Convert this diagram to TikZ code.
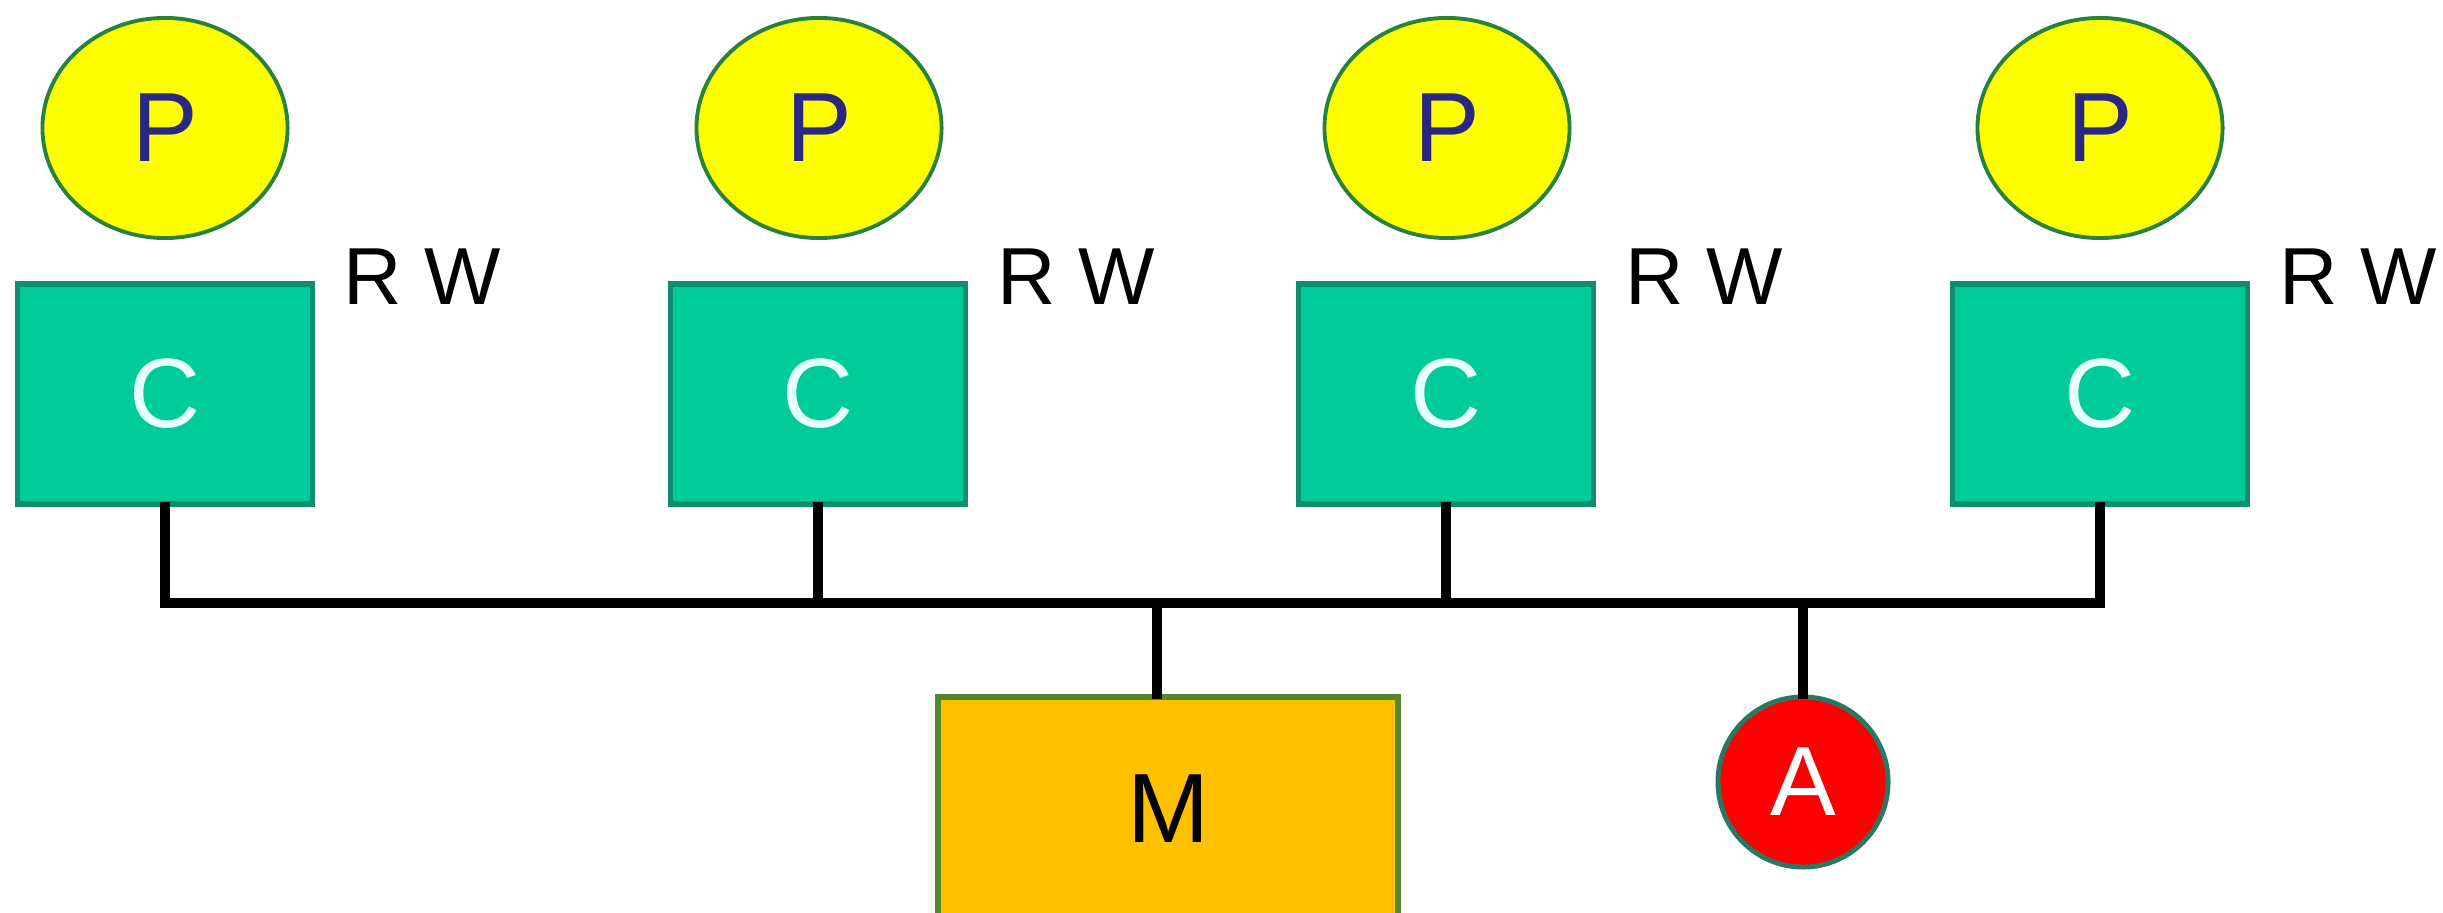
\documentclass[tikz,border=0pt]{standalone}
\usepackage{fontspec}
\setmainfont{Liberation Sans}
\usetikzlibrary{shapes.geometric}
\definecolor{pfill}{RGB}{255,255,0}
\definecolor{pline}{RGB}{40,130,60}
\definecolor{ptext}{RGB}{40,40,130}
\definecolor{cfill}{RGB}{0,204,153}
\definecolor{cline}{RGB}{16,140,110}
\definecolor{ctext}{RGB}{232,255,255}
\definecolor{mfill}{RGB}{255,192,0}
\definecolor{mline}{RGB}{85,135,45}
\definecolor{afill}{RGB}{255,0,0}
\definecolor{aline}{RGB}{40,120,100}
\tikzset{
  proc/.style={ellipse, draw=pline, line width=1.1pt, fill=pfill, minimum width=2.45cm, minimum height=2.2cm, inner sep=0pt, text=ptext, font=\fontsize{28}{34}\selectfont},
  cache/.style={rectangle, draw=cline, line width=1.6pt, fill=cfill, minimum width=2.95cm, minimum height=2.2cm, inner sep=0pt, text=ctext, font=\fontsize{28}{34}\selectfont},
  mem/.style={rectangle, draw=mline, line width=1.6pt, fill=mfill, minimum width=4.6cm, minimum height=2.24cm, inner sep=0pt, text=black, font=\fontsize{28}{34}\selectfont},
  arb/.style={circle, draw=aline, line width=1.4pt, fill=afill, minimum size=1.7cm, inner sep=0pt, text=white, font=\fontsize{28}{34}\selectfont},
  rw/.style={anchor=base west, inner sep=0pt, font=\fontsize{23}{28}\selectfont},
  wire/.style={line width=2.7pt, black, line join=miter, line cap=rect}
}
\begin{document}
\begin{tikzpicture}[x=0.01cm,y=-0.01cm]
\useasboundingbox (0,0) rectangle (2443,913);
\clip (0,0) rectangle (2443,913);
\fill[white] (0,0) rectangle (2443,913);
% processors
\node[proc] (p1) at (165,128) {P};
\node[proc] (p2) at (819,128) {P};
\node[proc] (p3) at (1447,128) {P};
\node[proc] (p4) at (2100,128) {P};
% caches
\node[cache] (c1) at (165,394) {C};
\node[cache] (c2) at (818,394) {C};
\node[cache] (c3) at (1446,394) {C};
\node[cache] (c4) at (2100,394) {C};
% RW labels
\node[rw] (rw1) at (343,305) {R W};
\node[rw] (rw2) at (997,305) {R W};
\node[rw] (rw3) at (1625,305) {R W};
\node[rw] (rw4) at (2279,305) {R W};
% memory and arbiter
\node[mem] (m) at (1168,809) {M};
\node[arb] (a) at (1803,782) {A};
\coordinate (bus) at (0,603);
% bus
\draw[wire] (c1.south) -- (c1.south |- bus) -- (c4.south |- bus) -- (c4.south);
\draw[wire] (c2.south) -- (c2.south |- bus);
\draw[wire] (c3.south) -- (c3.south |- bus);
\draw[wire] ([xshift=-0.11cm]m.north) -- ([xshift=-0.11cm]m.north |- bus);
\draw[wire] (a.north) -- (a.north |- bus);
\end{tikzpicture}
\end{document}
